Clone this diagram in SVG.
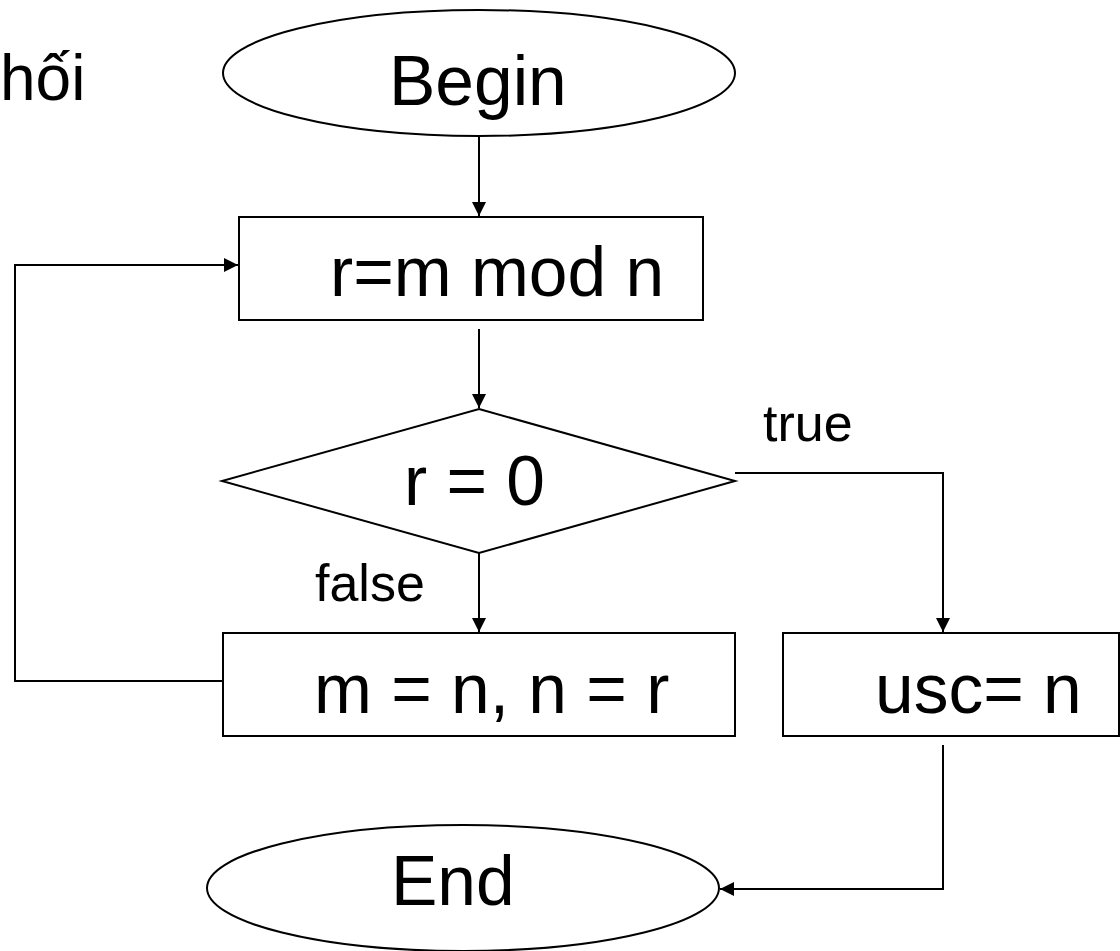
<svg xmlns="http://www.w3.org/2000/svg" width="1120" height="951" viewBox="0 0 1120 951">
<style>
.s{fill:#fff;stroke:#000;stroke-width:2}
.c{fill:none;stroke:#000;stroke-width:2}
text{font-family:"Liberation Sans",Arial,sans-serif;fill:#000}
.b{font-size:69.5px}
.l{font-size:52px}
</style>
<defs>
<marker id="a" viewBox="0 0 14 14" refX="14" refY="7" markerWidth="14" markerHeight="14" markerUnits="userSpaceOnUse" orient="auto">
<path d="M0,0 L14,7 L0,14 Z" fill="#000"/>
</marker>
</defs>
<rect width="1120" height="951" fill="#fff"/>
<text x="0" y="100" style="font-size:64px">hối</text>
<g id="connectors">
<path class="c" d="M479,137 V216" marker-end="url(#a)"/>
<path class="c" d="M479,329 V408" marker-end="url(#a)"/>
<path class="c" d="M735,473 H943 V632" marker-end="url(#a)"/>
<path class="c" d="M479,553 V632" marker-end="url(#a)"/>
<path class="c" d="M223,681 H15 V265 H238" marker-end="url(#a)"/>
<path class="c" d="M943,745 V889 H720" marker-end="url(#a)"/>
<text class="l" x="763" y="441">true</text>
<text class="l" x="315" y="601">false</text>
</g>
<g id="begin">
<ellipse class="s" cx="479" cy="73" rx="256" ry="63"/>
<text class="b" x="389" y="105">Begin</text>
</g>
<g id="compute">
<rect class="s" x="239" y="217" width="464" height="103"/>
<text class="b" x="330" y="296">r=m mod n</text>
</g>
<g id="decision">
<polygon class="s" points="479,409 735,481 479,553 222,481"/>
<text class="b" x="404" y="505">r = 0</text>
</g>
<g id="swap">
<rect class="s" x="223" y="633" width="512" height="103"/>
<text class="b" x="314" y="713">m = n, n = r</text>
</g>
<g id="result">
<rect class="s" x="783" y="633" width="336" height="103"/>
<text class="b" x="875" y="713">usc= n</text>
</g>
<g id="end">
<ellipse class="s" cx="463" cy="888" rx="256" ry="63"/>
<text class="b" x="391" y="905">End</text>
</g>
</svg>
